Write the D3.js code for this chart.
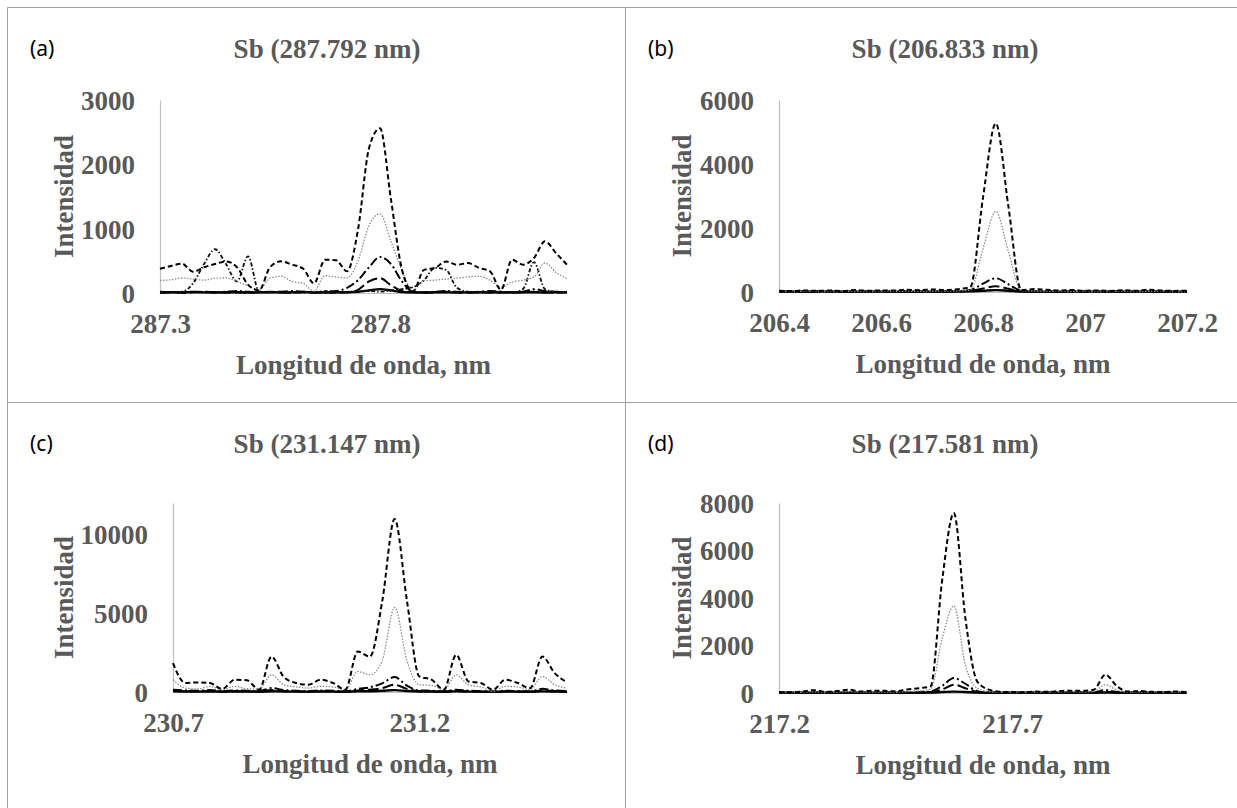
<!DOCTYPE html>
<html>
<head>
<meta charset="utf-8">
<script src="https://cdn.jsdelivr.net/npm/d3@7"></script>
<style>
  body { margin: 0; background: #fff; }
  svg { display: block; }
  .tick text, .axis-title, .chart-title {
    font-family: "Liberation Serif", "Times New Roman", serif;
    font-weight: bold;
    fill: #595959;
  }
  .panel-tag { font-family: "Noto Sans", sans-serif; font-size: 21px; fill: #000; }
</style>
</head>
<body>
<svg id="chart"></svg>
<script>
// ---- data ----
// (a) Sb 287.792 nm
let aWave = [287.300, 287.325, 287.350, 287.375, 287.400, 287.425, 287.450, 287.475, 287.500, 287.525,
  287.550, 287.575, 287.600, 287.625, 287.650, 287.675, 287.700, 287.725, 287.750, 287.775,
  287.800, 287.825, 287.850, 287.875, 287.900, 287.925, 287.950, 287.975, 288.000, 288.025,
  288.050, 288.075, 288.100, 288.125, 288.150, 288.175, 288.200, 288.225];
let aS1 = [378, 420, 456, 330, 400, 450, 490, 400, 130, 40, 400, 492, 440, 380, 150, 518, 510, 337, 985, 2250,
  2560, 1450, 360, 25, 360, 390, 490, 440, 466, 390, 337, 50, 518, 440, 544, 803, 620, 440];
let aS2 = [197, 205, 233, 215, 200, 230, 233, 180, 110, 52, 230, 260, 180, 150, 30, 270, 250, 233, 500, 1050,
  1230, 800, 350, 40, 190, 200, 215, 230, 250, 260, 200, 90, 170, 200, 250, 466, 320, 223];
let aS3 = [20, 15, 10, 20, 15, 10, 20, 30, 20, 10, 15, 20, 30, 20, 10, 20, 30, 80, 200, 400,
  560, 450, 180, 20, 10, 20, 30, 20, 10, 20, 30, 20, 10, 20, 60, 30, 20, 10];
let aS4 = [5, 10, 5, 10, 20, 10, 5, 10, 5, 10, 20, 10, 5, 10, 5, 10, 5, 10, 50, 180,
  230, 120, 30, 10, 5, 10, 20, 10, 5, 10, 5, 10, 5, 10, 20, 10, 5, 10];
let aS5 = [10, 10, 20, 150, 450, 680, 450, 180, 570, 25, 10, 20, 10, 15, 10, 30, 20, 10, 20, 30,
  20, 40, 60, 90, 200, 390, 360, 80, 20, 10, 15, 20, 10, 60, 480, 60, 20, 15];
let aS6 = [8, 12, 10, 15, 10, 8, 12, 10, 8, 10, 12, 8, 10, 15, 10, 8, 10, 12, 20, 40,
  60, 40, 15, 10, 8, 12, 10, 8, 10, 12, 10, 8, 10, 12, 10, 8, 10, 12];
let aXTicks = [287.3, 287.8];
let aYTicks = [0, 1000, 2000, 3000];

// (b) Sb 206.833 nm
let bWave = [206.400, 206.425, 206.450, 206.475, 206.500, 206.525, 206.550, 206.575, 206.600, 206.625,
  206.650, 206.675, 206.700, 206.725, 206.750, 206.775, 206.800, 206.825, 206.850, 206.875,
  206.900, 206.925, 206.950, 206.975, 207.000, 207.025, 207.050, 207.075, 207.100, 207.125,
  207.150, 207.175, 207.200];
let bS1 = [40, 30, 50, 35, 45, 30, 60, 40, 50, 45, 70, 55, 80, 60, 90, 150, 2950, 5270, 2650, 60,
  90, 70, 50, 60, 40, 50, 35, 55, 40, 70, 45, 35, 40];
let bS2 = [15, 10, 20, 15, 10, 20, 15, 10, 20, 15, 25, 20, 30, 25, 35, 60, 1350, 2520, 1250, 40,
  30, 25, 20, 15, 20, 10, 15, 20, 10, 15, 20, 10, 15];
let bS3 = [10, 15, 10, 20, 10, 15, 10, 20, 15, 10, 20, 15, 10, 20, 30, 60, 260, 430, 240, 40,
  20, 15, 10, 20, 15, 10, 20, 15, 10, 15, 20, 10, 15];
let bS4 = [5, 10, 5, 10, 5, 10, 5, 10, 5, 10, 5, 10, 5, 10, 15, 30, 110, 180, 100, 20,
  10, 5, 10, 5, 10, 5, 10, 5, 10, 5, 10, 5, 10];
let bS6 = [10, 12, 8, 10, 12, 10, 8, 10, 12, 10, 8, 10, 12, 10, 15, 20, 40, 60, 40, 15,
  10, 12, 8, 10, 12, 10, 8, 10, 12, 10, 8, 10, 12];
let bXTicks = [206.4, 206.6, 206.8, 207, 207.2];
let bYTicks = [0, 2000, 4000, 6000];

// (c) Sb 231.147 nm
let cWave = [230.700, 230.725, 230.750, 230.775, 230.800, 230.825, 230.850, 230.875, 230.900, 230.925,
  230.950, 230.975, 231.000, 231.025, 231.050, 231.075, 231.100, 231.125, 231.150, 231.175,
  231.200, 231.225, 231.250, 231.275, 231.300, 231.325, 231.350, 231.375, 231.400, 231.425,
  231.450, 231.475, 231.500];
let cS1 = [1830, 570, 610, 570, 190, 780, 740, 150, 2250, 950, 570, 460, 780, 570, 150, 2570, 2250, 5800, 10990, 5800,
  990, 780, 150, 2360, 670, 570, 150, 780, 570, 250, 2250, 1200, 610];
let cS2 = [780, 250, 190, 360, 150, 360, 210, 190, 1090, 460, 320, 250, 360, 320, 150, 1300, 1090, 2000, 5370, 2000,
  460, 420, 150, 1090, 460, 320, 40, 360, 320, 150, 990, 460, 250];
let cS3 = [150, 100, 80, 120, 60, 100, 80, 60, 250, 120, 80, 60, 100, 80, 40, 200, 300, 550, 950, 400,
  100, 80, 40, 150, 80, 60, 30, 80, 60, 40, 200, 100, 60];
let cS4 = [80, 50, 40, 60, 30, 50, 40, 30, 120, 60, 40, 30, 50, 40, 20, 100, 150, 250, 460, 200,
  50, 40, 20, 80, 40, 30, 20, 40, 30, 20, 100, 50, 30];
let cS6 = [40, 30, 25, 35, 20, 30, 25, 20, 50, 30, 25, 20, 30, 25, 15, 40, 50, 80, 120, 60,
  30, 25, 15, 40, 25, 20, 15, 25, 20, 15, 40, 30, 20];
let cXTicks = [230.7, 231.2];
let cYTicks = [0, 5000, 10000];

// (d) Sb 217.581 nm
let dWave = [217.200, 217.225, 217.250, 217.275, 217.300, 217.325, 217.350, 217.375, 217.400, 217.425,
  217.450, 217.475, 217.500, 217.525, 217.550, 217.575, 217.600, 217.625, 217.650, 217.675,
  217.700, 217.725, 217.750, 217.775, 217.800, 217.825, 217.850, 217.875, 217.900, 217.925,
  217.950, 217.975, 218.000, 218.025, 218.050, 218.075];
let dS1 = [40, 30, 60, 120, 50, 80, 140, 60, 100, 90, 70, 150, 200, 280, 4760, 7580, 3100, 490, 140, 50,
  40, 30, 60, 50, 80, 100, 90, 140, 770, 280, 60, 80, 50, 40, 60, 40];
let dS2 = [20, 15, 30, 50, 20, 40, 60, 30, 40, 35, 30, 60, 90, 150, 2300, 3670, 1150, 200, 60, 25,
  20, 15, 30, 25, 40, 50, 40, 60, 350, 120, 30, 40, 25, 20, 30, 20];
let dS3 = [10, 15, 10, 20, 15, 10, 20, 15, 10, 20, 15, 20, 30, 60, 300, 630, 380, 80, 20, 15,
  10, 15, 10, 20, 15, 10, 20, 30, 120, 40, 15, 10, 20, 15, 10, 15];
let dS4 = [5, 10, 5, 10, 5, 10, 5, 10, 5, 10, 5, 10, 15, 30, 150, 350, 200, 40, 10, 5,
  10, 5, 10, 5, 10, 5, 10, 15, 50, 20, 5, 10, 5, 10, 5, 10];
let dS6 = [10, 12, 8, 10, 12, 10, 8, 10, 12, 10, 8, 10, 12, 20, 40, 60, 40, 15, 10, 12,
  8, 10, 12, 10, 8, 10, 12, 10, 20, 12, 8, 10, 12, 10, 8, 10];
let dXTicks = [217.2, 217.7];
let dYTicks = [0, 2000, 4000, 6000, 8000];

// ---- line styles (drawn back to front) ----
let lineStyles = {
  solid:    { stroke: "#000", width: 2.4, dash: null },
  longDash: { stroke: "#000", width: 2, dash: "11,4" },
  dashDot:  { stroke: "#000", width: 2, dash: "9,3,2,3" },
  wander:   { stroke: "#111", width: 1.8, dash: "4,2,1.5,2" },
  grey:     { stroke: "#8c8c8c", width: 1.3, dash: "1.5,1.5" },
  dashed:   { stroke: "#000", width: 2, dash: "5,3" }
};

let panels = [
  { tag: "(a)", title: "Sb (287.792 nm)", ox: 7, oy: 7, wave: aWave,
    series: [["solid", aS6], ["longDash", aS4], ["dashDot", aS3], ["wander", aS5], ["grey", aS2], ["dashed", aS1]],
    xDomain: [287.3, 288.225], yMax: 3000, xTicks: aXTicks, yTicks: aYTicks,
    plot: { left: 153, right: 560, top: 93, bottom: 286 } },
  { tag: "(b)", title: "Sb (206.833 nm)", ox: 625, oy: 7, wave: bWave,
    series: [["solid", bS6], ["longDash", bS4], ["dashDot", bS3], ["grey", bS2], ["dashed", bS1]],
    xDomain: [206.4, 207.2], yMax: 6000, xTicks: bXTicks, yTicks: bYTicks,
    plot: { left: 154, right: 562, top: 93, bottom: 285 } },
  { tag: "(c)", title: "Sb (231.147 nm)", ox: 7, oy: 402, wave: cWave,
    series: [["solid", cS6], ["longDash", cS4], ["dashDot", cS3], ["grey", cS2], ["dashed", cS1]],
    xDomain: [230.7, 231.5], yMax: 12000, xTicks: cXTicks, yTicks: cYTicks,
    plot: { left: 166, right: 560, top: 101, bottom: 290 } },
  { tag: "(d)", title: "Sb (217.581 nm)", ox: 625, oy: 402, wave: dWave,
    series: [["solid", dS6], ["longDash", dS4], ["dashDot", dS3], ["grey", dS2], ["dashed", dS1]],
    xDomain: [217.2, 218.075], yMax: 8000, xTicks: dXTicks, yTicks: dYTicks,
    plot: { left: 154, right: 562, top: 101, bottom: 291 } }
];

let svgWidth = 1237;
let svgHeight = 808;

var svg = d3.select("#chart")
  .attr("width", svgWidth)
  .attr("height", svgHeight);

// table grid lines
let gridColor = "#a0a0a0";
let gridLines = [[7, 7, 1237, 7], [7, 7, 7, 808], [625, 7, 625, 808], [7, 402, 1237, 402]];
svg.selectAll("line.grid")
  .data(gridLines)
  .enter()
  .append("line")
  .attr("class", "grid")
  .attr("x1", d => d[0] + 0.5).attr("y1", d => d[1] + 0.5)
  .attr("x2", d => d[2] + 0.5).attr("y2", d => d[3] + 0.5)
  .attr("stroke", gridColor)
  .attr("stroke-width", 1);

panels.forEach(function(p) {
  let g = svg.append("g").attr("transform", `translate(${p.ox}, ${p.oy})`);
  let pw = p.plot.right - p.plot.left;
  let ph = p.plot.bottom - p.plot.top;

  let x = d3.scaleLinear().domain(p.xDomain).range([0, pw]);
  let y = d3.scaleLinear().domain([0, p.yMax]).range([ph, 0]);

  let chartGroup = g.append("g")
    .attr("transform", `translate(${p.plot.left}, ${p.plot.top})`);

  // y axis (light grey line, labels only)
  let leftAxis = d3.axisLeft(y)
    .tickValues(p.yTicks)
    .tickSize(0)
    .tickSizeOuter(0)
    .tickPadding(25)
    .tickFormat(d => String(d));
  let yAxis = chartGroup.append("g").call(leftAxis);
  yAxis.select(".domain").attr("stroke", "#bfbfbf").attr("stroke-width", 1.2);
  yAxis.selectAll(".tick text").attr("font-size", 27).attr("dy", "0.35em");

  // x axis
  let bottomAxis = d3.axisBottom(x)
    .tickValues(p.xTicks)
    .tickSize(0)
    .tickSizeOuter(0)
    .tickPadding(21)
    .tickFormat(d => String(d));
  let xAxis = chartGroup.append("g")
    .attr("transform", `translate(0, ${ph})`)
    .call(bottomAxis);
  xAxis.select(".domain").attr("stroke", "#bfbfbf").attr("stroke-width", 1);
  xAxis.selectAll(".tick text").attr("font-size", 27);

  // series
  let line = d3.line()
    .x((d, i) => x(p.wave[i]))
    .y(d => y(d))
    .curve(d3.curveMonotoneX);

  p.series.forEach(function(s) {
    let st = lineStyles[s[0]];
    chartGroup.append("path")
      .datum(s[1])
      .attr("d", line)
      .attr("fill", "none")
      .attr("stroke", st.stroke)
      .attr("stroke-width", st.width)
      .attr("stroke-dasharray", st.dash)
      .attr("stroke-linejoin", "round");
  });

  // axis titles
  chartGroup.append("text")
    .attr("class", "axis-title")
    .attr("x", pw / 2)
    .attr("y", ph + 81)
    .attr("text-anchor", "middle")
    .attr("font-size", 27)
    .text("Longitud de onda, nm");

  chartGroup.append("text")
    .attr("class", "axis-title")
    .attr("transform", `translate(${-p.plot.left + 57}, ${ph / 2}) rotate(-90)`)
    .attr("text-anchor", "middle")
    .attr("dy", "0.35em")
    .attr("font-size", 27)
    .text("Intensidad");

  // chart title and panel tag
  g.append("text")
    .attr("class", "chart-title")
    .attr("x", 320)
    .attr("y", 51)
    .attr("text-anchor", "middle")
    .attr("font-size", 27)
    .text(p.title);

  g.append("text")
    .attr("class", "panel-tag")
    .attr("x", 23)
    .attr("y", 49)
    .text(p.tag);
});
</script>
</body>
</html>
